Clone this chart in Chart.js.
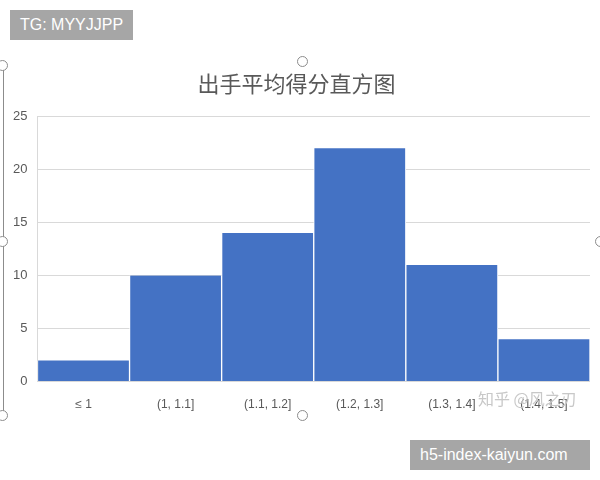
<!DOCTYPE html>
<html>
<head>
<meta charset="utf-8">
<script src="https://cdn.jsdelivr.net/npm/chart.js@4/dist/chart.umd.min.js"></script>
<style>
  body { margin: 0; background: #fff; font-family: "Noto Sans CJK SC", "Liberation Sans", sans-serif; }
  #wrap { position: relative; width: 600px; height: 480px; overflow: hidden; }
  #box { position: absolute; left: 0; top: 60px; width: 600px; height: 376px; }
  .frame { position: absolute; left: 3px; top: 62px; width: 1px; height: 354px; background: #8c8c8c; }
  .dot { position: absolute; width: 9px; height: 9px; border: 1.5px solid #8c8c8c; border-radius: 50%; background: #fff; }
  .tag { position: absolute; background: #a6a6a6; color: #fff; font-family: "Liberation Sans", sans-serif; font-size: 16px; line-height: 30px; padding: 0 10px; }
  .zh { position: absolute; left: 478px; top: 386px; color: #c8c8c8; font-size: 16px; font-family: "Noto Sans CJK SC", sans-serif; }
</style>
</head>
<body>
<div id="wrap">
  <div class="frame"></div>
  <div id="box"><canvas id="myChart"></canvas></div>
  <div class="dot" style="left:-3px;top:60px"></div>
  <div class="dot" style="left:-3px;top:236px"></div>
  <div class="dot" style="left:-3px;top:410px"></div>
  <div class="dot" style="left:297px;top:56px"></div>
  <div class="dot" style="left:297px;top:410px"></div>
  <div class="dot" style="left:595px;top:236px"></div>
  <div class="zh">知乎 @风之刃</div>
  <div class="tag" style="left:10px;top:10px;">TG: MYYJJPP</div>
  <div class="tag" style="left:410px;top:440px;width:160px;">h5-index-kaiyun.com</div>
</div>
<script>
const binLabels = ['≤ 1', '(1, 1.1]', '(1.1, 1.2]', '(1.2, 1.3]', '(1.3, 1.4]', '(1.4, 1.5]'];
const counts = [2, 10, 14, 22, 11, 4];
const yTicks = [0, 5, 10, 15, 20, 25];
const chartTitle = '出手平均得分直方图';

const ctx = document.getElementById('myChart');
new Chart(ctx, {
  type: 'bar',
  data: {
    labels: binLabels,
    datasets: [{
      data: counts,
      backgroundColor: '#4472c4',
      borderColor: '#ffffff',
      borderWidth: { left: 1, right: 1, top: 0, bottom: 0 },
      barPercentage: 1,
      categoryPercentage: 1
    }]
  },
  options: {
    responsive: true,
    maintainAspectRatio: false,
    animation: false,
    layout: { padding: { left: 3, right: 10, top: 0, bottom: 16 } },
    plugins: {
      legend: { display: false },
      tooltip: { enabled: false },
      title: {
        display: true,
        text: chartTitle,
        color: '#595959',
        font: { size: 22, family: '"Noto Sans CJK SC", sans-serif', weight: 'normal' },
        padding: { top: 10, bottom: 20 }
      }
    },
    scales: {
      x: {
        grid: { display: false },
        border: { display: false },
        ticks: { color: '#595959', font: { size: 12, family: '"Liberation Sans", sans-serif' }, padding: 8 }
      },
      y: {
        min: 0,
        max: 25,
        afterBuildTicks: (axis) => { axis.ticks = yTicks.map(v => ({ value: v })); },
        grid: { color: '#d9d9d9', drawTicks: false },
        border: { display: true, color: '#d9d9d9' },
        ticks: { color: '#595959', font: { size: 13, family: '"Liberation Sans", sans-serif' }, padding: 10 }
      }
    }
  }
});
</script>
</body>
</html>
